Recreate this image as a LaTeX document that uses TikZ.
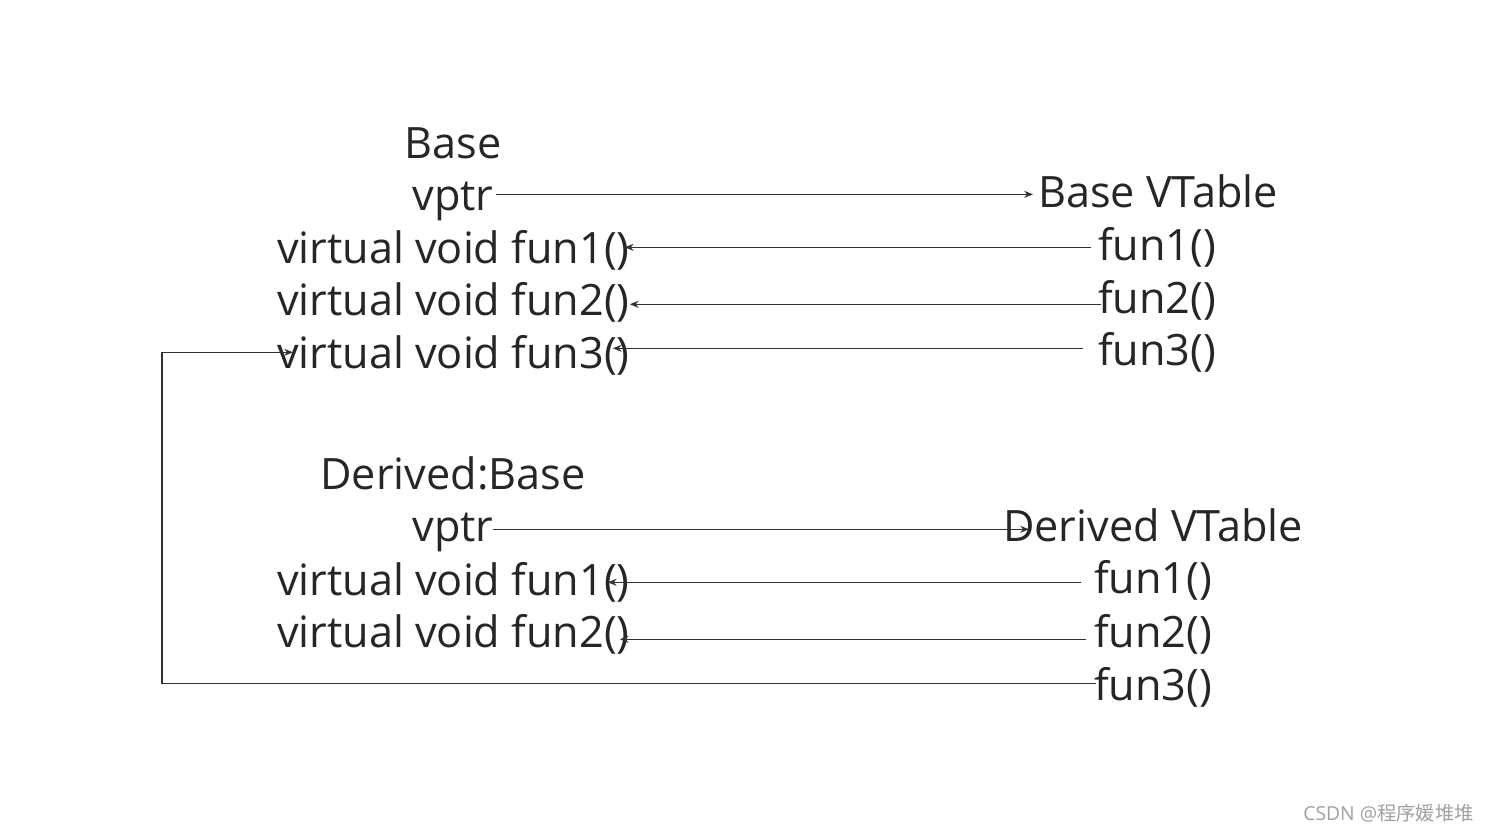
\documentclass[tikz,border=0pt]{standalone}
\usepackage{fontspec}
\setmainfont{Open Sans}
\newfontfamily\cjkfont{Noto Sans CJK SC}
\usepackage{tikz}
\usetikzlibrary{positioning, arrows.meta, calc}
\definecolor{TextColor}{RGB}{38,38,38}
\definecolor{LineColor}{RGB}{50,50,50}
\definecolor{MarkColor}{RGB}{160,160,160}
\tikzstyle{label} = [inner sep=1pt, text height=24pt, text depth=5pt, text=TextColor, font=\fontsize{24.6}{30}\selectfont]
\tikzstyle{ptr} = [line width=0.6pt, LineColor, -{Stealth[length=5pt,width=4pt]}]

\begin{document}
\begin{tikzpicture}[x=0.02cm, y=-0.02cm]
        \useasboundingbox (0,0) rectangle (1489,833);

        % Base class
        \node[label, anchor=base] (bname) at (453,158) {Base};
        \node[label, anchor=base] (bvptr) at (453,210) {vptr};
        \node[label, anchor=base west] (bf1) at (275,263) {virtual void fun1()};
        \node[label, anchor=base west] (bf2) at (275,315) {virtual void fun2()};
        \node[label, anchor=base west] (bf3) at (275,368) {virtual void fun3()};

        % Base vtable
        \node[label, anchor=base west] (btab) at (1036,207) {Base VTable};
        \node[label, anchor=base west] (bt1) at (1096,260) {fun1()};
        \node[label, anchor=base west] (bt2) at (1096,313) {fun2()};
        \node[label, anchor=base west] (bt3) at (1096,365) {fun3()};

        % Derived class
        \node[label, anchor=base] (dname) at (453,489) {Derived:Base};
        \node[label, anchor=base] (dvptr) at (453,541) {vptr};
        \node[label, anchor=base west] (df1) at (275,595) {virtual void fun1()};
        \node[label, anchor=base west] (df2) at (275,647) {virtual void fun2()};

        % Derived vtable
        \node[label, anchor=base west] (dtab) at (1001,541) {Derived VTable};
        \node[label, anchor=base west] (dt1) at (1092,593) {fun1()};
        \node[label, anchor=base west] (dt2) at (1092,647) {fun2()};
        \node[label, anchor=base west] (dt3) at (1092,700) {fun3()};

        % Pointers to the tables
        \draw[ptr] ($(bvptr.east)+(0,1)$) -- ($(bvptr.east -| btab.west)+(-3,1)$);
        \draw[ptr] ($(dvptr.east)+(-3,5)$) -- ($(dvptr.east -| dtab.west)+(28,5)$);

        % Table entries
        \draw[ptr] ($(bf1.east -| bt1.west)+(-5,1)$) -- ($(bf1.east)+(-7,1)$);
        \draw[ptr] ($(bf2.east -| bt2.west)+(5,6)$) -- ($(bf2.east)+(-2,6)$);
        \draw[ptr] ($(bf3.east -| bt3.west)+(-13,-3)$) -- ($(bf3.east)+(-19,-3)$);
        \draw[ptr] ($(df1.east -| dt1.west)+(-11,4)$) -- ($(df1.east)+(-24,4)$);
        \draw[ptr] ($(df2.east -| dt2.west)+(-6,9)$) -- ($(df2.east)+(-12,9)$);
        \coordinate (loop) at (162,683);
        \draw[ptr] ($(dt3.west)+(4,0)$) -| (loop) |- ($(bf3.west)+(18,1)$);

        % Watermark
        \node[anchor=east, text=MarkColor, font=\fontsize{11}{13}\selectfont] (mark) at (1480,813) {CSDN @{\cjkfont 程序媛堆堆}};

      \end{tikzpicture}
\end{document}
